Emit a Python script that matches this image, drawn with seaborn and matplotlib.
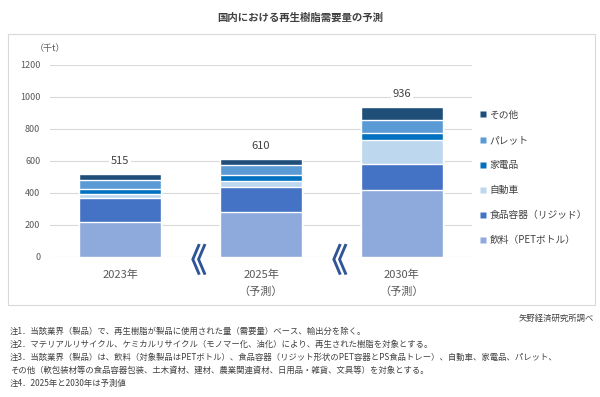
import numpy as np
import pandas as pd
import matplotlib
matplotlib.use('Agg')
import matplotlib.pyplot as plt
import seaborn as sns
from matplotlib.patches import Rectangle
from matplotlib.lines import Line2D

years = ['2023年', '2025年\n（予測）', '2030年\n（予測）']
totals = [515, 610, 936]

# 下から順に積み上げ
categories = ['飲料（PETボトル）', '食品容器（リジッド）', '自動車', '家電品', 'パレット', 'その他']
beverage = [220, 282, 420]
food = [145, 152, 160]
auto = [28, 42, 152]
appliance = [28, 34, 40]
pallet = [60, 67, 84]
other = [34, 33, 80]

colors = ['#8EA9DB', '#4472C4', '#BDD7EE', '#0070C0', '#5B9BD5', '#1F4E79']

notes = [
    '注1．当該業界（製品）で、再生樹脂が製品に使用された量（需要量）ベース、輸出分を除く。',
    '注2．マテリアルリサイクル、ケミカルリサイクル（モノマー化、油化）により、再生された樹脂を対象とする。',
    '注3．当該業界（製品）は、飲料（対象製品はPETボトル）、食品容器（リジット形状のPET容器とPS食品トレー）、自動車、家電品、パレット、',
    'その他（軟包装材等の食品容器包装、土木資材、建材、農業関連資材、日用品・雑貨、文具等）を対象とする。',
    '注4．2025年と2030年は予測値',
]

sns.set_style('white')
plt.rcParams['font.family'] = ['Noto Sans CJK JP', 'DejaVu Sans']

df = pd.DataFrame({'year': years, 'beverage': beverage, 'food': food, 'auto': auto,
                   'appliance': appliance, 'pallet': pallet, 'other': other})
cols = ['beverage', 'food', 'auto', 'appliance', 'pallet', 'other']
cum = df[cols].cumsum(axis=1)

fig = plt.figure(figsize=(6, 3.97), dpi=100)
ax = fig.add_axes([0.0833, 0.3534, 0.7034, 0.4829])

# 外枠
fig.patches.append(Rectangle((8 / 600, 1 - 305 / 397), 587 / 600, 271 / 397,
                             transform=fig.transFigure, fill=False,
                             edgecolor='#D9D9D9', linewidth=0.8))

for c, col in reversed(list(zip(colors, cols))):
    sns.barplot(x=df['year'], y=cum[col], color=c, width=0.585,
                saturation=1, ax=ax, zorder=3)

ax.set_ylim(0, 1200)
ax.set_xlim(-0.5, 2.5)
ax.set_yticks(range(0, 1201, 200))
ax.grid(axis='y', color='#D9D9D9', linewidth=0.8, zorder=0)
ax.set_axisbelow(True)
for s in ax.spines.values():
    s.set_visible(False)
ax.tick_params(axis='y', length=0, labelsize=6.5, labelcolor='#595959', pad=7)
ax.tick_params(axis='x', length=0, labelsize=8, labelcolor='#595959', pad=9)
for t in ax.get_xticklabels():
    t.set_linespacing(1.75)
ax.set_xlabel('')
ax.set_ylabel('')

for i, t in enumerate(totals):
    ax.annotate(str(t), (i, t), xytext=(0, 6), textcoords='offset points',
                ha='center', va='bottom', fontsize=8, color='#404040',
                bbox=dict(boxstyle='square,pad=0.15', fc='white', ec='none'), zorder=4)

# 省略記号
for xp in [0.5, 1.5]:
    ax.annotate('《', (xp, 0), xytext=(0, -4), textcoords='offset points',
                ha='center', va='center', fontsize=24, fontweight='bold',
                color='#2F5597', annotation_clip=False, zorder=5)

fig.text(50 / 600, 1 - 48 / 397, '（千t）', ha='center', va='center', fontsize=6.5, color='#595959')
fig.text(0.5, 1 - 18 / 397, '国内における再生樹脂需要量の予測', ha='center', va='center',
         fontsize=7.5, fontweight='bold', color='#404040')

handles = [Line2D([], [], marker='s', linestyle='none', markersize=5,
                  markerfacecolor=c, markeredgecolor='none') for c in colors]
leg = fig.legend(handles[::-1], categories[::-1], loc='upper left',
                 bbox_to_anchor=(474 / 600, 1 - 105 / 397), frameon=False,
                 fontsize=7, labelspacing=1.55, handlelength=0.8, handletextpad=0.3,
                 borderpad=0)
for t in leg.get_texts():
    t.set_color('#404040')

fig.text(594 / 600, 1 - 318 / 397, '矢野経済研究所調べ', ha='right', va='center',
         fontsize=6, color='#404040')
for k, line in enumerate(notes):
    fig.text(10 / 600, 1 - (331 + 13 * k) / 397, line, ha='left', va='center',
             fontsize=6, color='#404040')

fig.savefig('out.png', dpi=100, facecolor='white')
